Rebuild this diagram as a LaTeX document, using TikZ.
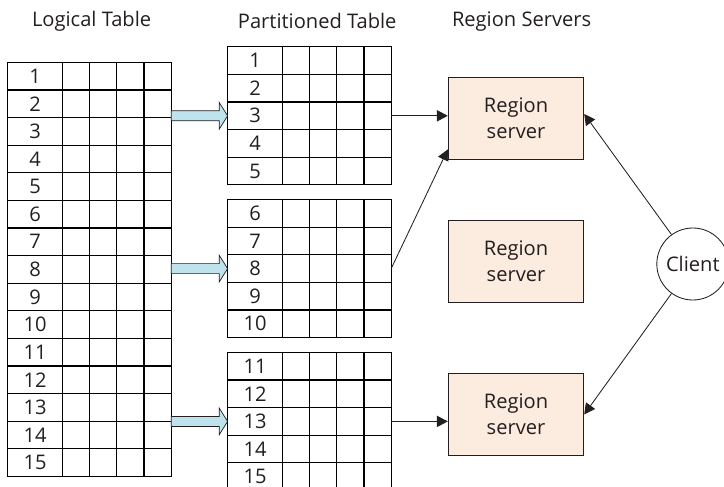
\documentclass[tikz,border=0pt]{standalone}
\usepackage{fontspec}
\setmainfont{Open Sans}
\usepackage{tikz}
\usetikzlibrary{positioning}
\usetikzlibrary{calc,arrows.meta}

\definecolor{ArrowBlue}{HTML}{BEE3EC}
\definecolor{ServerPeach}{HTML}{FCEBDF}
\definecolor{LineGray}{HTML}{231F20}

\tikzset{
	cell/.style={draw=black, line width=0.75pt, minimum width=0.68cm, minimum height=0.69cm, inner sep=0pt, outer sep=0pt},
	keycell/.style={cell, minimum width=1.37cm},
	server/.style={draw=LineGray, line width=0.6pt, fill=ServerPeach, minimum width=3.39cm, minimum height=2.05cm, align=center},
	client/.style={draw=LineGray, line width=0.6pt, circle, minimum size=1.80cm, inner sep=0pt},
	link/.style={draw=LineGray, line width=0.6pt, -{Triangle[length=0.27cm, width=0.28cm]}},
	bluearrow/.style={draw=LineGray, line width=0.5pt, fill=ArrowBlue},
	heading/.style={inner sep=0pt},
}

% block arrow from #1 to the tip #2
\newcommand{\blockarrow}[2]{%
	\draw[bluearrow] ($(#1)+(0,0.125)$) -- ($(#2)+(-0.21,0.125)$) -- ($(#2)+(-0.21,0.335)$) -- (#2)
		-- ($(#2)+(-0.21,-0.335)$) -- ($(#2)+(-0.21,-0.125)$) -- ($(#1)+(0,-0.125)$) -- cycle;}

\begin{document}
\begin{tikzpicture}[font=\fontsize{14.3}{18.5}\selectfont, text=LineGray]

	% ------------------------------------------------
	% Ensure the dimensions of graphic are appropriate
	\useasboundingbox (0,0) rectangle (18.10,-12.15);

	% ------------------------------------------------
	% Headings
	\node[heading] (TLogical)   at (2.29,-0.53)  {Logical Table};
	\node[heading] (TPartition) at (7.93,-0.53)  {Partitioned Table};
	\node[heading] (TServers)   at (13.04,-0.53) {Region Servers};

	% ----------------
	% Logical table
	\foreach \row in {1,...,15}{
		\node[keycell] (L\row c0) at (0.875, {-1.56-0.69*(\row-0.5)}) {\row};
		\foreach \col in {1,...,4}
			\node[cell] (L\row c\col) at ({1.56+0.68*(\col-0.5)}, {-1.56-0.69*(\row-0.5)}) {};
	}

	% ----------------
	% Partitioned table
	\foreach \blk/\top in {0/-1.17, 1/-4.99, 2/-8.81}{
		\foreach \k in {1,...,5}{
			\pgfmathtruncatemacro{\row}{5*\blk+\k}
			\node[keycell] (P\row c0) at (6.375, {\top-0.69*(\k-0.5)}) {\row};
			\foreach \col in {1,...,4}
				\node[cell] (P\row c\col) at ({7.06+0.68*(\col-0.5)}, {\top-0.69*(\k-0.5)}) {};
		}
	}

	% ----------------
	% Region servers and client
	\node[server] (RS1) at (12.90,-2.95)  {Region\\server};
	\node[server] (RS2) at (12.90,-6.53)  {Region\\server};
	\node[server] (RS3) at (12.90,-10.36) {Region\\server};

	\node[client] (Client) at (17.32,-6.60) {Client};

	% ------------------------------------------------
	% Relevant coordinates
	\path (L3c4.east  |- P3c0.west)  coordinate (Split1);
	\path (L8c4.east  |- P8c0.west)  coordinate (Split2);
	\path (L13c4.east |- P13c0.west) coordinate (Split3);

	\path (RS1.south west) +(0.00cm,0.25cm) coordinate (RS1In);
	\path (RS1.east)       +(0.00cm,0.10cm) coordinate (RS1Out);

	%%%%%%%%%%%%%%%%%%%%%%%%%%%%%%%%%%%%%%%%%
	% Arrows
	\blockarrow{Split1}{P3c0.west}
	\blockarrow{Split2}{P8c0.west}
	\blockarrow{Split3}{P13c0.west}

	\draw[link] (P3c4.east)  -- (RS1.west |- P3c4.east);
	\draw[link] (P8c4.east)  -- (RS1In);
	\draw[link] (P13c4.east) -- (RS3.west |- P13c4.east);

	\draw[link] (Client) -- (RS1Out);
	\draw[link] (Client) -- (RS3.east);

\end{tikzpicture}
\end{document}
